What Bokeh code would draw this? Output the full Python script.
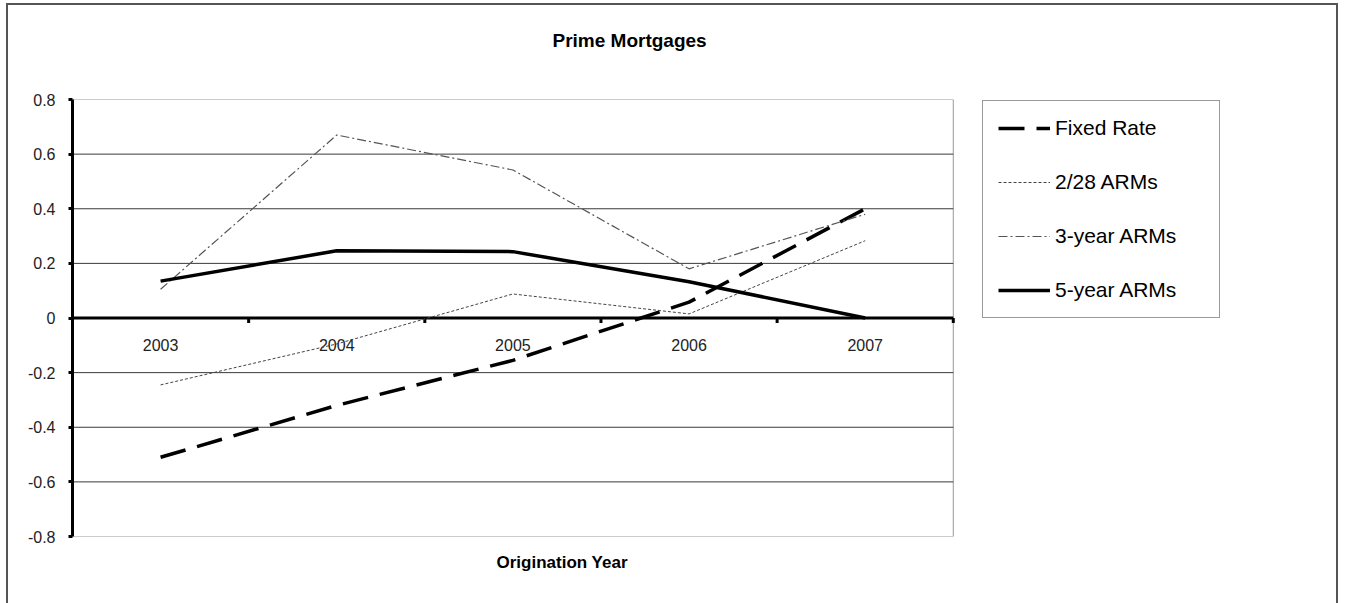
from bokeh.plotting import figure
from bokeh.models import (FixedTicker, CustomJSTickFormatter, Legend, LegendItem, Title)
from bokeh.core.properties import value
from bokeh.embed import file_html
from bokeh.resources import INLINE

# ---- data ----
years = ["2003", "2004", "2005", "2006", "2007"]
fixed_rate = [-0.51, -0.32, -0.155, 0.058, 0.40]
arm_2_28 = [-0.245, -0.095, 0.088, 0.015, 0.283]
arm_3yr = [0.105, 0.67, 0.542, 0.18, 0.38]
arm_5yr = [0.135, 0.246, 0.243, 0.133, 0.0]
y_ticks = [-0.8, -0.6, -0.4, -0.2, 0.0, 0.2, 0.4, 0.6, 0.8]
title_text = "Prime Mortgages"
x_title = "Origination Year"

FONT = "Liberation Sans"
xs = list(range(len(years)))

W, H = 1332, 600          # element size incl. its css border (border-box)
BL, BT, BB = 64, 94, 69   # canvas borders
CANVAS_W = W - 4
FRAME_W = CANVAS_W - BL
PLOT_W = 878              # px occupied by the category area; the legend sits right of it
x_lo = -0.5
x_hi = len(years) - 0.5
x_end = x_lo + (x_hi - x_lo) * FRAME_W / PLOT_W
y_lo, y_hi = y_ticks[0], y_ticks[-1]

p = figure(width=W, height=H, output_backend="svg", toolbar_location=None, title=None,
           x_range=(x_lo, x_end), y_range=(y_lo, y_hi),
           min_border_left=BL, min_border_right=0, min_border_top=BT, min_border_bottom=BB,
           tools="")
p.styles = {"border-left": "2px solid #555555", "border-top": "2px solid #555555",
            "border-right": "2px solid #555555", "margin-left": "6px", "margin-top": "3px"}
p.background_fill_color = "white"
p.border_fill_color = "white"
p.outline_line_color = None

# y axis
p.yaxis.ticker = FixedTicker(ticks=y_ticks)
p.yaxis.formatter = CustomJSTickFormatter(code="return tick.toFixed(1).replace(/\\.0$/, '');")
p.yaxis.axis_line_width = 3
p.yaxis.axis_line_color = "black"
p.yaxis.major_tick_line_width = 3
p.yaxis.major_tick_line_color = "black"
p.yaxis.major_tick_out = 4
p.yaxis.major_tick_in = 0
p.yaxis.minor_tick_line_color = None
p.yaxis.major_label_text_font = FONT
p.yaxis.major_label_text_font_size = "16px"
p.yaxis.major_label_text_color = "#222222"
p.yaxis.major_label_standoff = 13

p.xaxis.visible = False
p.xgrid.visible = False
p.ygrid.visible = False

# plot-area box and horizontal grid lines (limited to the category area)
p.quad(left=[x_lo], right=[x_hi], bottom=[y_lo], top=[y_hi], fill_alpha=0,
       line_color="#999999", line_width=1)
grid_vals = [t for t in y_ticks if 1e-9 < abs(t) < y_hi - 1e-9]
p.segment(x0=[x_lo] * len(grid_vals), y0=grid_vals, x1=[x_hi] * len(grid_vals), y1=grid_vals,
          line_color="#3a3a3a", line_width=1)

# zero axis line with ticks at category boundaries
p.segment(x0=[x_lo], y0=[0], x1=[x_hi], y1=[0], line_color="black", line_width=3)
tick_len = (y_hi - y_lo) / 435 * 5
bx = [i + 0.5 for i in xs]
p.segment(x0=bx, y0=[0] * len(bx), x1=bx, y1=[-tick_len] * len(bx), line_color="black", line_width=3)

# category labels just below the zero line
p.text(x=xs, y=[0] * len(xs), text=years, text_font=value(FONT), text_font_size="16px",
       text_color="#222222", text_align="center", text_baseline="middle", y_offset=27)

# series
r_fixed = p.line(xs, fixed_rate, line_color="black", line_width=3.5, line_dash="26 12")
r_228 = p.line(xs, arm_2_28, line_color="#444444", line_width=1, line_dash="3 2")
r_3 = p.line(xs, arm_3yr, line_color="#555555", line_width=1.2, line_dash="9 3 2 3")
r_5 = p.line(xs, arm_5yr, line_color="black", line_width=3.5)

legend = Legend(items=[LegendItem(label="Fixed Rate", renderers=[r_fixed]),
                       LegendItem(label="2/28 ARMs", renderers=[r_228]),
                       LegendItem(label="3-year ARMs", renderers=[r_3]),
                       LegendItem(label="5-year ARMs", renderers=[r_5])],
                location=(PLOT_W + 32, 218), padding=15, margin=0, spacing=30,
                glyph_width=52, glyph_height=20, label_height=20, label_standoff=5,
                label_width=149,
                label_text_font=FONT, label_text_font_size="21px", label_text_color="black",
                border_line_color="#333333", border_line_width=1.5,
                background_fill_color="white", background_fill_alpha=1)
p.add_layout(legend)

# titles (a spacer first, nearest the frame, then the chart title)
p.add_layout(Title(text=" ", text_font_size="1px", standoff=46), "above")
p.add_layout(Title(text=title_text, align="left", offset=480, standoff=0,
                   text_font=FONT, text_font_size="19px", text_font_style="bold",
                   text_color="black"), "above")
p.add_layout(Title(text=x_title, align="left", offset=424, standoff=28,
                   text_font=FONT, text_font_size="17px", text_font_style="bold",
                   text_color="black"), "below")

open("out.html", "w").write(file_html(p, INLINE))
